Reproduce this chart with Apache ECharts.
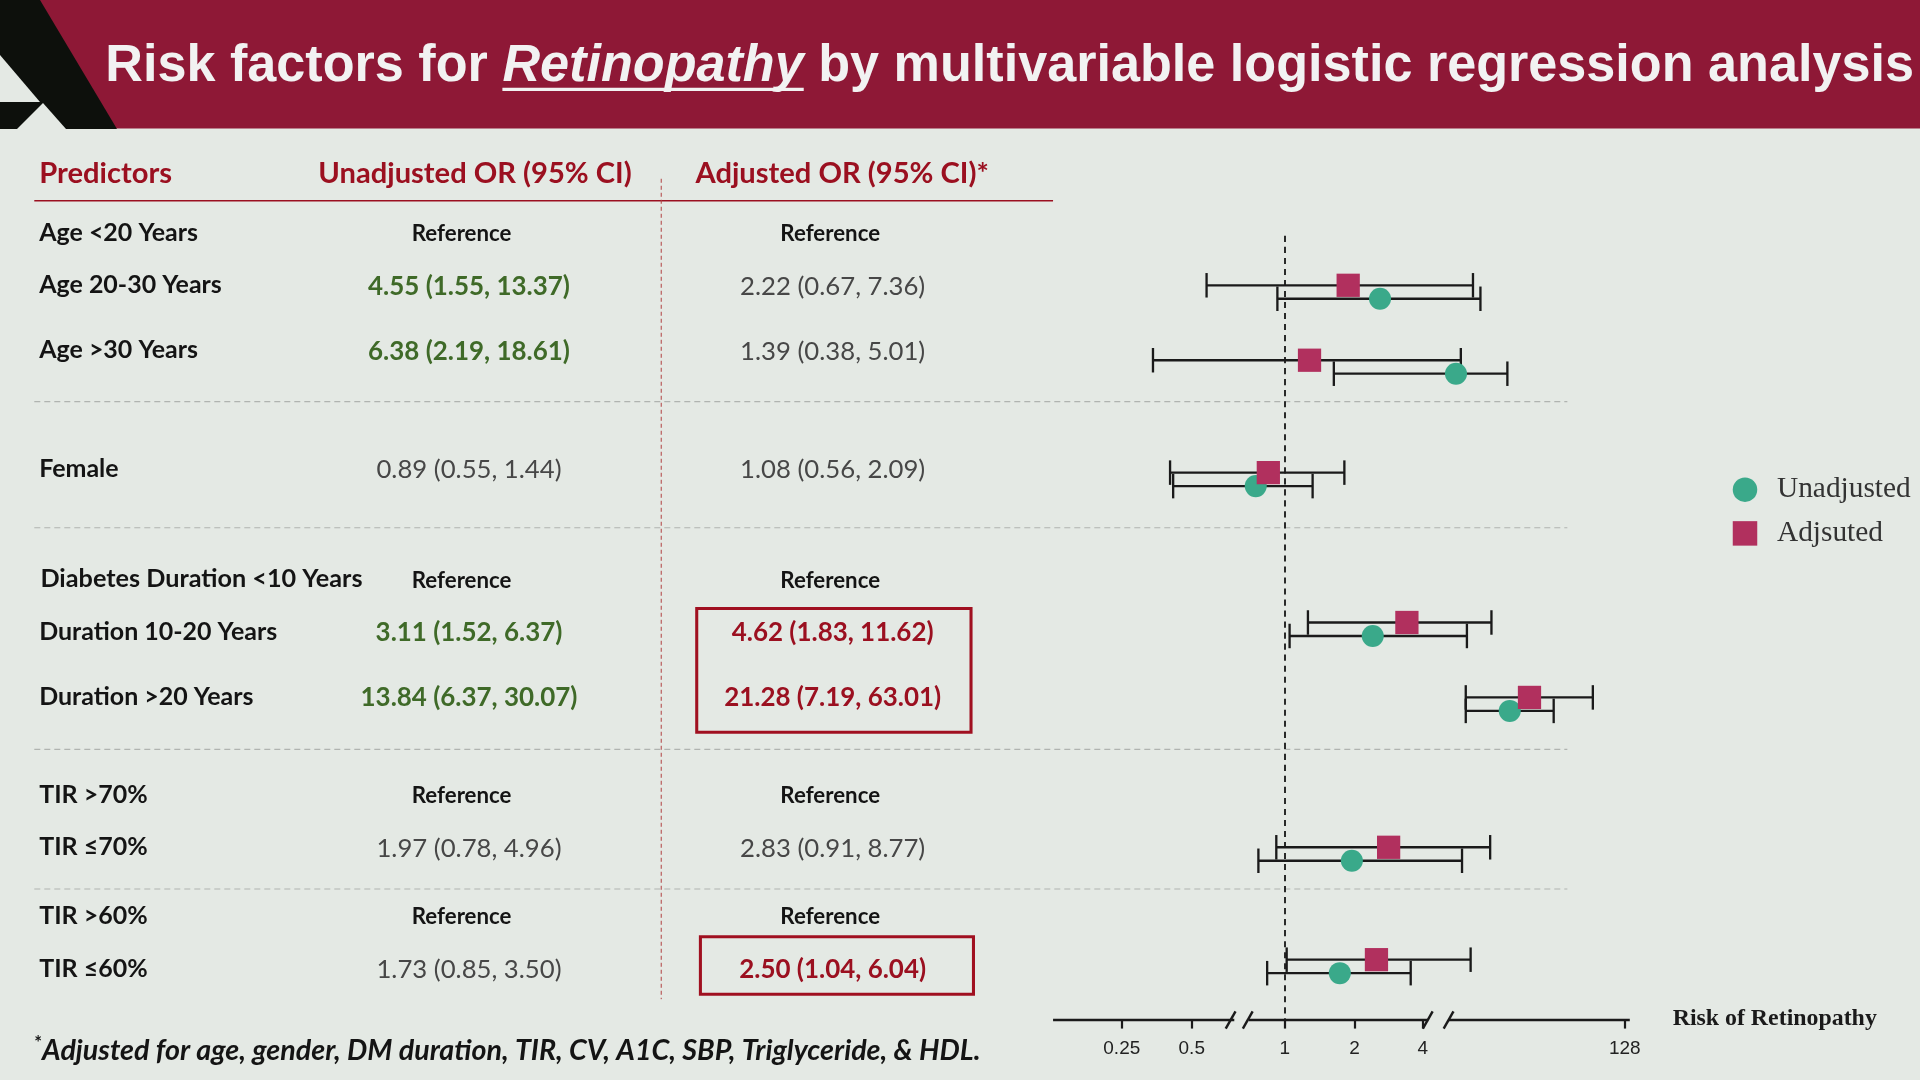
<!DOCTYPE html>
<html><head><meta charset="utf-8">
<script src="https://cdn.jsdelivr.net/npm/echarts@6/dist/echarts.min.js"></script>
<style>html,body{margin:0;padding:0;background:#e4e9e4}#c{width:1920px;height:1080px}</style>
</head><body><div id="c"></div>
<script>
// ---------- data ----------
const predictors = ["Age <20 Years","Age 20-30 Years","Age >30 Years","Female","Diabetes Duration <10 Years","Duration 10-20 Years","Duration >20 Years","TIR >70%","TIR \u226470%","TIR >60%","TIR \u226460%"];
const unadjText = ["Reference","4.55 (1.55, 13.37)","6.38 (2.19, 18.61)","0.89 (0.55, 1.44)","Reference","3.11 (1.52, 6.37)","13.84 (6.37, 30.07)","Reference","1.97 (0.78, 4.96)","Reference","1.73 (0.85, 3.50)"];
const adjText = ["Reference","2.22 (0.67, 7.36)","1.39 (0.38, 5.01)","1.08 (0.56, 2.09)","Reference","4.62 (1.83, 11.62)","21.28 (7.19, 63.01)","Reference","2.83 (0.91, 8.77)","Reference","2.50 (1.04, 6.04)"];
const unadjSignificant = [false,true,true,false,false,true,true,false,false,false,false];
const adjSignificant = [false,false,false,false,false,true,true,false,false,false,true];
const plotRows = ["Age 20-30 Years","Age >30 Years","Female","Duration 10-20 Years","Duration >20 Years","TIR \u226470%","TIR \u226460%"];
const plotSlot = [0,2,5,9,11,15,18];
const unadjEst = [2.58,5.49,0.75,2.40,9.37,1.95,1.73];
const unadjLo  = [0.93,1.63,0.33,1.05,6.05,0.77,0.84];
const unadjHi  = [7.0,9.15,1.32,6.12,14.5,5.83,3.50];
const adjEst = [1.88,1.28,0.85,3.37,11.4,2.81,2.49];
const adjLo  = [0.46,0.27,0.32,1.26,6.05,0.92,1.02];
const adjHi  = [6.50,5.76,1.81,7.81,21.4,7.71,6.35];
const tickValues = [0.198,0.397,1,2,3.95,29.4];
const tickLabels = ["0.25","0.5","1","2","4","128"];

// ---------- layout ----------
const k = 1920/1568, S = v => v*k;
const rowY = [190,233,286,383,473,516,569,649,692,748,791];
const L2 = Math.log2;
const chart = echarts.init(document.getElementById('c'));
const g = [];
const ctx = document.createElement('canvas').getContext('2d');
const measure = (t,font)=>{ctx.font=font;return ctx.measureText(t).width;};
// banner
const TF = S(42.6);
g.push({type:'rect',shape:{x:0,y:0,width:1920,height:S(105)},style:{fill:'#8e1836'},z:1});
g.push({type:'polygon',shape:{points:[[0,0],[40,0],[117,129],[0,129]]},style:{fill:'#0d100c'},z:2});
g.push({type:'polygon',shape:{points:[[0,55],[0,102],[40,102]]},style:{fill:'#e4e9e4'},z:3});
g.push({type:'polygon',shape:{points:[[17,129],[43,103],[66,129]]},style:{fill:'#e4e9e4'},z:3});
g.push({type:'text',x:S(86),y:S(54),style:{text:'{a|Risk factors for }{b|Retinopathy}{a| by multivariable logistic regression analysis}',verticalAlign:'middle',
  rich:{a:{fontFamily:'Liberation Sans',fontWeight:'bold',fontSize:TF,fill:'#f2f2f2'},
        b:{fontFamily:'Liberation Sans',fontWeight:'bold',fontStyle:'italic',fontSize:TF,fill:'#f2f2f2'}}},z:4});
const ux1 = S(86)+measure('Risk factors for ','bold '+TF+'px "Liberation Sans"');
const ux2 = ux1+measure('Retinopathy','italic bold '+TF+'px "Liberation Sans"');
g.push({type:'line',shape:{x1:ux1,y1:S(73),x2:ux2,y2:S(73)},style:{stroke:'#f2f2f2',lineWidth:S(2.5)},z:4});
// table header
const hdr = {fontFamily:'Lato',fontWeight:'bold',fontSize:S(23.8),fill:'#9b1020',verticalAlign:'middle'};
g.push({type:'text',x:S(32),y:S(142),style:Object.assign({text:'Predictors'},hdr)});
g.push({type:'text',x:S(260),y:S(142),style:Object.assign({text:'Unadjusted OR (95% CI)'},hdr)});
g.push({type:'text',x:S(568),y:S(142),style:Object.assign({text:'Adjusted OR (95% CI)*'},hdr)});
g.push({type:'line',shape:{x1:S(28),y1:S(164),x2:S(860),y2:S(164)},style:{stroke:'#9b1020',lineWidth:1.5}});
g.push({type:'line',shape:{x1:S(540),y1:S(146),x2:S(540),y2:S(816)},style:{stroke:'#b04040',lineWidth:1,lineDash:[4,3]}});
[328,431,612,726].forEach(y=>g.push({type:'line',shape:{x1:S(28),y1:S(y),x2:S(1280),y2:S(y)},style:{stroke:'#b0b4b0',lineWidth:1.2,lineDash:[6,4]}}));
// boxes
g.push({type:'rect',shape:{x:S(569),y:S(497),width:S(224),height:S(101)},style:{fill:'none',stroke:'#a01020',lineWidth:S(2.5)}});
g.push({type:'rect',shape:{x:S(572),y:S(765),width:S(223),height:S(47)},style:{fill:'none',stroke:'#a01020',lineWidth:S(2.5)}});
predictors.forEach((p,i)=>{
  const y = S(rowY[i]);
  g.push({type:'text',x:S(i===4?33:32),y:y,style:{text:p,fontFamily:'Lato',fontWeight:'bold',fontSize:S(i===4?20.6:20.4),fill:'#141414',verticalAlign:'middle'}});
  const cell=(t,sig,cx,sigColor)=>{
    const ref = t==='Reference';
    g.push({type:'text',x:S(cx),y:y+S(1),style:{text:t,fontFamily:'Lato',fontWeight:(ref||sig)?'bold':'normal',fontSize:S(ref?18.2:(sig?21.2:21)),
      fill: ref?'#141414':(sig?sigColor:'#474747'),align:'center',verticalAlign:'middle'}});
  };
  cell(unadjText[i],unadjSignificant[i],unadjText[i]==='Reference'?377:383,'#3f6a28');
  cell(adjText[i],adjSignificant[i],adjText[i]==='Reference'?678:680,'#9b1020');
});
g.push({type:'text',x:S(28),y:S(858),style:{text:'{s|*}Adjusted for age, gender, DM duration, TIR, CV, A1C, SBP, Triglyceride, & HDL.',verticalAlign:'middle',
  fontFamily:'Lato',fontWeight:'bold',fontStyle:'italic',fontSize:S(23.4),fill:'#141414',rich:{s:{fontSize:S(15),verticalAlign:'top',fontFamily:'Lato',fontWeight:'bold',fill:'#141414',padding:[0,0,S(12),0]}}}});
// broken axis
const ay=S(833);
[[860,1008],[1020,1166],[1183,1331]].forEach(([a,b])=>g.push({type:'line',shape:{x1:S(a),y1:ay,x2:S(b),y2:ay},style:{stroke:'#1a1a1a',lineWidth:S(2)}}));
[1005,1019,1166,1183].forEach(x=>g.push({type:'line',shape:{x1:S(x-4),y1:ay+S(7),x2:S(x+4),y2:ay-S(7)},style:{stroke:'#1a1a1a',lineWidth:S(2)}}));
g.push({type:'text',x:S(1366),y:S(832),style:{text:'Risk of Retinopathy',fontFamily:'Liberation Serif',fontWeight:'bold',fontSize:S(19.5),fill:'#1a1a1a',verticalAlign:'middle'}});

const err = (lo,hi,off)=>plotSlot.map((s,i)=>[L2(lo[i]),L2(hi[i]),s+off]);
const whisker = (data)=>({type:'custom',silent:true,data:data,z:3,encode:{x:[0,1],y:2},
  renderItem:(p,api)=>{
    const a=api.coord([api.value(0),api.value(2)]), b=api.coord([api.value(1),api.value(2)]), h=S(10);
    const st={stroke:'#1a1a1a',lineWidth:S(1.9)};
    return {type:'group',children:[
      {type:'line',shape:{x1:a[0],y1:a[1],x2:b[0],y2:b[1]},style:st},
      {type:'line',shape:{x1:a[0],y1:a[1]-h,x2:a[0],y2:a[1]+h},style:st},
      {type:'line',shape:{x1:b[0],y1:b[1]-h,x2:b[0],y2:b[1]+h},style:st}]};
  }});
const aoff=-0.18, uoff=0.18;
chart.setOption({
  animation:false,
  backgroundColor:'#e4e9e4',
  graphic:g,
  grid:{left:S(860),width:S(471),top:S(192.6),height:S(833-192.6),containLabel:false},
  xAxis:{type:'value',min:L2(0.1),max:L2(30.9),position:'bottom',
    axisLine:{show:false,onZero:false},splitLine:{show:false},
    axisTick:{show:true,customValues:tickValues.map(L2),length:S(7),lineStyle:{color:'#1a1a1a',width:S(1.8)}},
    axisLabel:{customValues:tickValues.map(L2),margin:S(16),fontFamily:'Liberation Sans Narrow, Liberation Sans',fontSize:S(15.5),color:'#222',
      formatter:v=>{let b=0;tickValues.forEach((t,i)=>{if(Math.abs(L2(t)-v)<Math.abs(L2(tickValues[b])-v))b=i;});return tickLabels[b];}}},
  yAxis:{type:'value',inverse:true,min:-1.5,max:19.43,show:false},
  legend:{orient:'vertical',left:S(1411),top:S(384),itemGap:S(12),itemWidth:S(20),itemHeight:S(20),
    textStyle:{fontFamily:'Liberation Serif',fontSize:S(24),color:'#333',padding:[0,0,0,S(12)]},
    data:[{name:'Unadjusted',icon:'circle'},{name:'Adjsuted',icon:'rect'}]},
  series:[
    whisker(err(adjLo,adjHi,aoff)),
    whisker(err(unadjLo,unadjHi,uoff)),
    {name:'Unadjusted',type:'scatter',symbol:'circle',symbolSize:S(18),z:5,itemStyle:{color:'#3aa98a',opacity:1},
      data:plotSlot.map((s,i)=>[L2(unadjEst[i]),s+uoff]),
      markLine:{silent:true,symbol:'none',label:{show:false},lineStyle:{color:'#1a1a1a',type:[S(5),S(4)],width:S(1.5)},data:[{xAxis:0}]}},
    {name:'Adjsuted',type:'scatter',symbol:'rect',symbolSize:S(19),z:5,itemStyle:{color:'#b1305e',opacity:1},
      data:plotSlot.map((s,i)=>[L2(adjEst[i]),s+aoff])}
  ]
});
</script></body></html>
